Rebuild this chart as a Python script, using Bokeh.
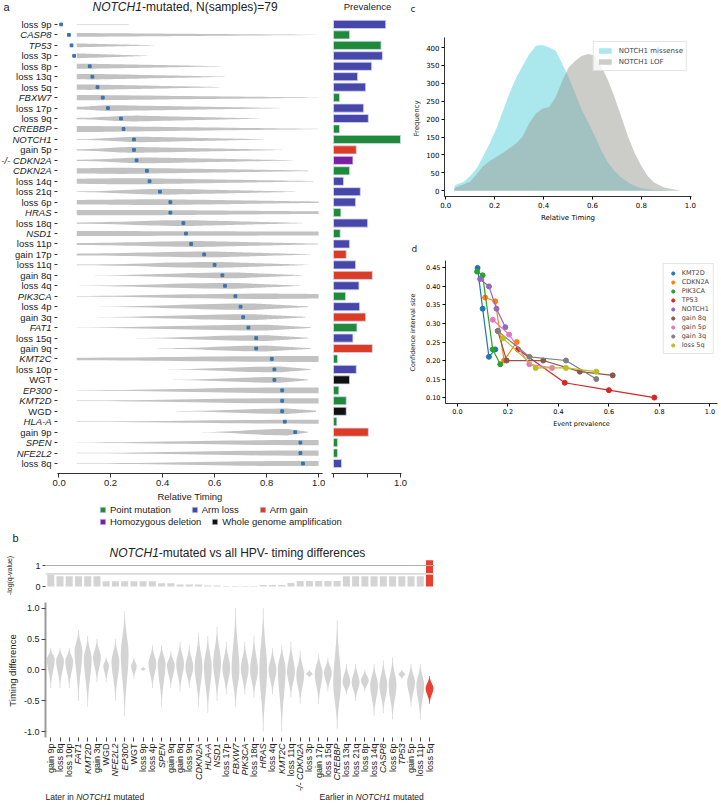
import numpy as np
from bokeh.plotting import figure
from bokeh.models import (Range1d, FixedTicker, Label, ColumnDataSource,
                          Legend, LegendItem, Span, PrintfTickFormatter)
from bokeh.layouts import column, row
from bokeh.embed import file_html
from bokeh.resources import INLINE
from bokeh.core.properties import value

# ---------------- panel a data ----------------
a_events = ["loss 9p", "CASP8", "TP53", "loss 3p", "loss 8p", "loss 13q", "loss 5q", "FBXW7",
            "loss 17p", "loss 9q", "CREBBP", "NOTCH1", "gain 5p", "-/- CDKN2A", "CDKN2A",
            "loss 14q", "loss 21q", "loss 6p", "HRAS", "loss 18q", "NSD1", "loss 11p",
            "gain 17p", "loss 11q", "gain 8q", "loss 4q", "PIK3CA", "loss 4p", "gain 3q",
            "FAT1", "loss 15q", "gain 9q", "KMT2C", "loss 10p", "WGT", "EP300", "KMT2D",
            "WGD", "HLA-A", "gain 9p", "SPEN", "NFE2L2", "loss 8q"]
a_median = [0.01, 0.04, 0.05, 0.06, 0.12, 0.13, 0.15, 0.17, 0.19, 0.24, 0.25, 0.29, 0.29,
            0.30, 0.34, 0.35, 0.39, 0.43, 0.43, 0.48, 0.49, 0.51, 0.56, 0.60, 0.63, 0.64,
            0.68, 0.70, 0.71, 0.73, 0.76, 0.76, 0.82, 0.83, 0.83, 0.86, 0.86, 0.86, 0.87,
            0.91, 0.93, 0.93, 0.94]
a_prevalence = [0.78, 0.24, 0.71, 0.73, 0.57, 0.36, 0.48, 0.09, 0.45, 0.52, 0.09, 1.00, 0.34,
                0.29, 0.24, 0.15, 0.40, 0.33, 0.11, 0.51, 0.10, 0.24, 0.19, 0.33, 0.58, 0.38,
                0.18, 0.39, 0.48, 0.35, 0.29, 0.58, 0.06, 0.34, 0.24, 0.08, 0.19, 0.19, 0.05,
                0.52, 0.06, 0.06, 0.12]
# violin outline of each row: start, mode, end (timing) and relative half-widths
a_v_start = [0.07, 0.07, 0.07, 0.07, 0.07, 0.07, 0.07, 0.07, 0.07, 0.07, 0.07, 0.07, 0.07,
             0.07, 0.07, 0.07, 0.07, 0.07, 0.07, 0.07, 0.07, 0.07, 0.07, 0.07, 0.14, 0.08,
             0.07, 0.16, 0.15, 0.07, 0.30, 0.38, 0.07, 0.42, 0.44, 0.07, 0.07, 0.45, 0.07,
             0.55, 0.07, 0.07, 0.07]
a_v_mode = [0.07, 0.07, 0.07, 0.07, 0.10, 0.15, 0.12, 0.10, 0.20, 0.30, 0.15, 0.33, 0.30,
            0.35, 0.25, 0.30, 0.42, 0.40, 0.30, 0.50, 0.50, 0.55, 0.60, 0.62, 0.68, 0.68,
            0.80, 0.75, 0.75, 0.80, 0.80, 0.80, 0.90, 0.85, 0.85, 0.92, 0.90, 0.88, 0.95,
            0.88, 0.95, 0.95, 0.95]
a_v_end = [0.27, 0.99, 0.37, 0.34, 0.62, 0.64, 0.62, 1.00, 0.85, 0.77, 1.00, 0.79, 0.86,
           0.90, 0.96, 0.98, 0.91, 1.00, 1.00, 0.94, 1.00, 1.00, 0.97, 0.96, 0.94, 0.93,
           1.00, 0.96, 0.95, 0.97, 0.96, 0.97, 1.00, 0.97, 0.96, 1.00, 1.00, 0.99, 1.00,
           0.96, 1.00, 1.00, 1.00]
a_w_start = [0.05, 0.30, 0.30, 0.38, 0.38, 0.40, 0.40, 0.42, 0.20, 0.10, 0.45, 0.05, 0.10,
             0.10, 0.40, 0.40, 0.05, 0.35, 0.42, 0.10, 0.40, 0.15, 0.15, 0.05, 0.02, 0.02,
             0.05, 0.02, 0.02, 0.02, 0.02, 0.02, 0.20, 0.02, 0.02, 0.03, 0.03, 0.02, 0.03,
             0.02, 0.03, 0.03, 0.03]
a_w_mode = [0.05, 0.30, 0.30, 0.38, 0.40, 0.42, 0.42, 0.42, 0.45, 0.45, 0.45, 0.42, 0.45,
            0.45, 0.48, 0.48, 0.45, 0.45, 0.42, 0.45, 0.35, 0.45, 0.45, 0.45, 0.45, 0.45,
            0.42, 0.50, 0.45, 0.45, 0.45, 0.45, 0.45, 0.45, 0.45, 0.45, 0.40, 0.42, 0.30,
            0.50, 0.40, 0.40, 0.40]
a_w_end = [0.03, 0.02, 0.02, 0.02, 0.02, 0.02, 0.02, 0.02, 0.02, 0.02, 0.02, 0.02, 0.02,
           0.02, 0.05, 0.03, 0.02, 0.10, 0.20, 0.02, 0.30, 0.05, 0.02, 0.02, 0.02, 0.02,
           0.35, 0.05, 0.05, 0.05, 0.05, 0.05, 0.45, 0.05, 0.05, 0.45, 0.40, 0.10, 0.30,
           0.05, 0.40, 0.40, 0.40]

legend_labels = ["Point mutation", "Arm loss", "Arm gain", "Homozygous deletion",
                 "Whole genome amplification"]
legend_colors = ["#1f8a3a", "#4646ab", "#dc3b26", "#7a1fa3", "#111111"]

# ---------------- panel b data ----------------
b_events = ["gain 9p", "loss 8q", "loss 10p", "FAT1", "KMT2D", "gain 3q", "WGD", "NFE2L2",
            "EP300", "WGT", "loss 9p", "loss 4p", "SPEN", "gain 9q", "gain 8q", "loss 9q",
            "CDKN2A", "HLA-A", "NSD1", "loss 17p", "FBXW7", "PIK3CA", "loss 18q", "HRAS",
            "loss 4q", "KMT2C", "loss 11q", "-/- CDKN2A", "loss 3p", "gain 17p", "loss 15q",
            "CREBBP", "loss 13q", "loss 21q", "loss 8p", "loss 14q", "CASP8", "loss 6p",
            "TP53", "gain 5p", "loss 11p", "loss 5q"]
b_neglogq = [0.57, 0.49, 0.49, 0.49, 0.49, 0.49, 0.25, 0.25, 0.25, 0.25, 0.25, 0.25, 0.16,
             0.16, 0.10, 0.10, 0.10, 0.05, 0.05, 0.02, 0.02, 0.02, 0.02, 0.07, 0.07, 0.07,
             0.17, 0.26, 0.26, 0.26, 0.26, 0.26, 0.49, 0.49, 0.49, 0.49, 0.49, 0.49, 0.49,
             0.49, 0.49, 1.25]
b_significant = [False] * 41 + [True]
b_peak = [0.17, 0.15, 0.14, 0.30, 0.18, 0.20, 0.07, 0.13, 0.25, 0.06, 0.01, 0.10, 0.10, 0.07,
          0.10, 0.05, 0.05, 0.05, 0.10, 0.03, 0.00, 0.02, 0.00, 0.00, 0.00, 0.02, -0.03,
          -0.08, -0.07, -0.05, -0.05, -0.20, -0.20, -0.20, -0.17, -0.25, -0.25, -0.25, -0.07,
          -0.20, -0.25, -0.30]
b_high = [0.35, 0.35, 0.35, 0.65, 0.55, 0.50, 0.20, 0.50, 0.95, 0.20, 0.05, 0.40, 0.40, 0.30,
          0.45, 0.40, 0.60, 0.55, 0.70, 0.45, 1.00, 0.45, 0.55, 1.00, 0.35, 0.40, 0.45, 0.30,
          0.00, 0.25, 0.20, 0.80, 0.10, 0.10, 0.00, 0.10, 0.15, 0.20, 0.00, 0.10, 0.10, -0.10]
b_low = [-0.30, -0.30, -0.30, -0.50, -0.60, -0.20, -0.20, -0.50, -0.75, -0.15, -0.02, -0.30,
         -0.60, -0.30, -0.35, -0.30, -0.60, -0.70, -0.50, -0.40, -0.60, -0.40, -0.45, -1.00,
         -0.40, -1.00, -0.45, -0.55, -0.12, -0.55, -0.35, -0.95, -0.40, -0.50, -0.35, -0.75,
         -0.70, -0.80, -0.15, -0.60, -0.80, -0.55]
b_width = [0.42, 0.42, 0.42, 0.42, 0.42, 0.42, 0.30, 0.42, 0.42, 0.30, 0.25, 0.42, 0.42, 0.42,
           0.42, 0.42, 0.42, 0.42, 0.42, 0.42, 0.42, 0.42, 0.42, 0.42, 0.42, 0.42, 0.42, 0.42,
           0.35, 0.42, 0.42, 0.42, 0.42, 0.42, 0.42, 0.42, 0.42, 0.42, 0.35, 0.42, 0.42, 0.42]
b_q_lines = [1.0, 0.6]

# ---------------- panel c data ----------------
c_missense_x = [0.035, 0.04, 0.074, 0.10, 0.128, 0.154, 0.18, 0.208, 0.235, 0.26, 0.289, 0.315,
                0.342, 0.369, 0.396, 0.423, 0.45, 0.477, 0.503, 0.53, 0.557, 0.584, 0.61,
                0.638, 0.664, 0.69, 0.718, 0.758, 0.80, 0.85, 0.906]
c_missense_y = [12, 16, 25, 41, 64, 97, 133, 175, 225, 271, 317, 349, 382, 405, 407, 400, 391,
                354, 317, 271, 225, 189, 152, 110, 78, 55, 37, 18, 7, 3, 1]
c_lof_x = [0.035, 0.04, 0.10, 0.154, 0.18, 0.235, 0.289, 0.315, 0.342, 0.369, 0.396, 0.423,
           0.45, 0.477, 0.503, 0.53, 0.557, 0.584, 0.61, 0.638, 0.664, 0.69, 0.718, 0.745,
           0.772, 0.80, 0.826, 0.852, 0.893, 0.946, 0.96]
c_lof_y = [6, 9, 25, 69, 83, 106, 133, 152, 189, 216, 230, 234, 262, 308, 345, 363, 377, 382,
           377, 345, 308, 262, 207, 152, 106, 69, 41, 23, 9, 2, 0]

# ---------------- panel d data ----------------
d_names = ["KMT2D", "CDKN2A", "PIK3CA", "TP53", "NOTCH1", "gain 8q", "gain 5p", "gain 3q",
           "loss 5q"]
d_colors = ["#1f77b4", "#ff7f0e", "#2ca02c", "#d62728", "#9467bd", "#8c564b", "#e377c2",
            "#7f7f7f", "#bcbd22"]
d_prevalence = [[0.08, 0.10, 0.125, 0.15], [0.11, 0.15, 0.185, 0.235],
                [0.078, 0.10, 0.14, 0.17], [0.24, 0.425, 0.60, 0.78],
                [0.09, 0.125, 0.155, 0.19], [0.16, 0.195, 0.34, 0.485, 0.615],
                [0.14, 0.205, 0.285, 0.375], [0.16, 0.285, 0.43, 0.55],
                [0.18, 0.31, 0.43, 0.55]]
d_ci_size = [[0.45, 0.34, 0.21, 0.23], [0.37, 0.36, 0.20, 0.25], [0.44, 0.43, 0.23, 0.19],
             [0.23, 0.14, 0.12, 0.10], [0.42, 0.40, 0.34, 0.29],
             [0.28, 0.20, 0.20, 0.17, 0.16], [0.31, 0.27, 0.19, 0.18],
             [0.28, 0.21, 0.20, 0.15], [0.26, 0.18, 0.18, 0.17]]

# ---------------- helpers ----------------
FA = "Liberation Sans"
FC = "DejaVu Sans"
TXT = "#222222"
A_W_SCALE = 0.62
FMT1 = PrintfTickFormatter(format="%.1f")


def base_fig(w, h, xr, yr, ml, mr, mt, mb, **kw):
    p = figure(width=w, height=h, x_range=xr, y_range=yr, output_backend="svg",
               toolbar_location=None, min_border_left=ml, min_border_right=mr,
               min_border_top=mt, min_border_bottom=mb, **kw)
    p.outline_line_color = None
    p.xgrid.visible = False
    p.ygrid.visible = False
    p.background_fill_color = "white"
    p.border_fill_color = "white"
    return p


def style_axis(ax, font, size, color=TXT, line_color=TXT, tick_out=4):
    ax.major_label_text_font = font
    ax.major_label_text_font_size = size
    ax.major_label_text_color = color
    ax.axis_label_text_font = font
    ax.axis_label_text_font_size = size
    ax.axis_label_text_font_style = "normal"
    ax.axis_label_text_color = color
    ax.minor_tick_line_color = None
    ax.major_tick_in = 0
    ax.major_tick_out = tick_out
    ax.major_tick_line_color = line_color
    ax.axis_line_color = line_color


def add_text(p, frame_left, frame_bottom, px, py, text, size, font, style="normal",
             align="left", angle=0.0, color=TXT):
    p.add_layout(Label(x=px - frame_left, y=frame_bottom - py, x_units="screen",
                       y_units="screen", text=text, text_font=font, text_font_size=size,
                       text_font_style=style, text_align=align, text_baseline="middle",
                       angle=angle, text_color=color))


def event_kind(name):
    if name.startswith("loss"):
        return "loss"
    if name.startswith("gain"):
        return "gain"
    if name.startswith("-/-"):
        return "homdel"
    if name in ("WGD", "WGT"):
        return "wgd"
    return "point"


kind_color = {"point": legend_colors[0], "loss": legend_colors[1], "gain": legend_colors[2],
              "homdel": legend_colors[3], "wgd": legend_colors[4]}

n_a = len(a_events)
a_rows = [-i for i in range(n_a)]
a_kinds = [event_kind(e) for e in a_events]
a_styles = ["italic" if k in ("point", "homdel") else "normal" for k in a_kinds]

# row geometry of panel a (page pixels)
ROW0_Y, ROW_PITCH = 24.0, 10.476
A_FB = 474
a_yr = Range1d(-(A_FB - ROW0_Y) / ROW_PITCH, ROW0_Y / ROW_PITCH)

# ---------------- A0: row labels ----------------
a0 = base_fig(52, 504, Range1d(0, 52), a_yr, 0, 0, 0, 30,
              x_axis_location=None, y_axis_location=None)
a0.text(x="x", y="y", text="t", source=ColumnDataSource(dict(
    x=[51] * n_a, y=a_rows, t=a_events, s=a_styles)),
    text_font_style="s", text_font=value(FA), text_font_size=value("9.5px"),
    text_align="right", text_baseline="middle", text_color=TXT)
add_text(a0, 0, A_FB, 3, 7, "a", "11px", FA)

# ---------------- A1: violins ----------------
A1_L = 57
a1 = base_fig(273, 504, Range1d(-0.004, 1.015), a_yr, 5, 3, 0, 30)
vx, vy = [], []
for i in range(n_a):
    s, m, e = a_v_start[i], a_v_mode[i], a_v_end[i]
    ws, wm, we = (A_W_SCALE * a_w_start[i], A_W_SCALE * a_w_mode[i], A_W_SCALE * a_w_end[i])
    if m > s:
        t1 = np.linspace(s, m, 16)
        u1 = (t1 - s) / (m - s)
        w1 = ws + (wm - ws) * (0.5 - 0.5 * np.cos(np.pi * u1))
    else:
        t1 = np.array([s])
        w1 = np.array([ws])
    t2 = np.linspace(m, e, 30)
    u2 = (t2 - m) / max(e - m, 1e-6)
    w2 = wm + (we - wm) * u2
    t = np.concatenate([t1, t2[1:]])
    w = np.concatenate([w1, w2[1:]])
    y0 = a_rows[i]
    vx.append(list(np.concatenate([t, t[::-1]])))
    vy.append(list(np.concatenate([y0 + w, (y0 - w)[::-1]])))
a1.patches(xs="xs", ys="ys", source=ColumnDataSource(dict(xs=vx, ys=vy)),
           fill_color="#c2c2c2", line_color=None)
a1.scatter(a_median, a_rows, size=2.8, marker="square", color="#3a73aa")

style_axis(a1.xaxis[0], FA, "9.5px", line_color="#333333")
a1.xaxis.ticker = FixedTicker(ticks=[0, 0.2, 0.4, 0.6, 0.8, 1.0])
a1.xaxis.formatter = FMT1
a1.xaxis.axis_label = "Relative Timing"
a1.xaxis.major_label_standoff = 2
a1.xaxis.axis_label_standoff = 2
a1.xaxis.axis_line_width = 1.2
style_axis(a1.yaxis[0], FA, "9px", line_color="#333333", tick_out=3)
a1.yaxis.ticker = FixedTicker(ticks=a_rows)
a1.yaxis.axis_line_color = None
a1.yaxis.major_label_text_color = None
a1.yaxis.major_label_standoff = 0

add_text(a1, A1_L, A_FB, 92, 7, "NOTCH1", "12px", FA, style="italic")
add_text(a1, A1_L, A_FB, 141.5, 7, "-mutated, N(samples)=79", "12px", FA)

# ---------------- A2: prevalence ----------------
A2_L = 331
a2 = base_fig(82, 504, Range1d(-0.03, 1.015), a_yr, 6, 6, 0, 30, y_axis_location=None)
a2.hbar(y=a_rows, left=0, right=a_prevalence, height=0.78,
        fill_color=[kind_color[k] for k in a_kinds], line_color="#d3d8ee", line_width=0.8)
style_axis(a2.xaxis[0], FA, "9.5px", line_color="#333333")
a2.xaxis.ticker = FixedTicker(ticks=[1.0], minor_ticks=[0.0, 0.5])
a2.xaxis.formatter = PrintfTickFormatter(format="%.1f")
a2.xaxis.minor_tick_line_color = "#333333"
a2.xaxis.minor_tick_out = 4
a2.xaxis.minor_tick_in = 0
a2.xaxis.major_label_standoff = 2
a2.xaxis.axis_line_width = 1.2
add_text(a2, A2_L, A_FB, 367, 7, "Prevalence", "9.5px", FA, align="center")

# ---------------- CD0: side texts of panels c and d ----------------
CD_H = 430
cd0 = base_fig(16, CD_H, Range1d(0, 16), Range1d(0, CD_H), 0, 0, 0, 0,
               x_axis_location=None, y_axis_location=None)
CD_L = 407
add_text(cd0, CD_L, CD_H, 410, 8, "c", "9px", FC)
add_text(cd0, CD_L, CD_H, 416, 118, "Frequency", "7px", FC, align="center", angle=np.pi / 2)
add_text(cd0, CD_L, CD_H, 411, 248, "d", "9px", FC)
add_text(cd0, CD_L, CD_H, 412, 332, "Confidence interval size", "6.5px", FC,
         align="center", angle=np.pi / 2)

# ---------------- C: timing histogram ----------------
pc = base_fig(298, 224, Range1d(-0.005, 1.005), Range1d(-16, 428), 18, 30, 37, 26)
r_mis = pc.varea(x=c_missense_x, y1=0, y2=c_missense_y, fill_color="#17becf", fill_alpha=0.36)
r_lof = pc.varea(x=c_lof_x, y1=0, y2=c_lof_y, fill_color="#9a9a94", fill_alpha=0.5)
for ax in (pc.xaxis[0], pc.yaxis[0]):
    style_axis(ax, FC, "7px", color="#000000", line_color="#000000", tick_out=3)
    ax.major_label_standoff = 2
    ax.axis_line_width = 0.8
pc.xaxis.ticker = FixedTicker(ticks=[0, 0.2, 0.4, 0.6, 0.8, 1.0])
pc.xaxis.formatter = PrintfTickFormatter(format="%.1f")
pc.yaxis.ticker = FixedTicker(ticks=list(range(0, 401, 50)))
pc.xaxis.axis_label = "Relative Timing"
pc.xaxis.axis_label_standoff = 3
leg_c = Legend(items=[LegendItem(label="NOTCH1 missense", renderers=[r_mis]),
                      LegendItem(label="NOTCH1 LOF", renderers=[r_lof])],
               location="top_right", margin=4, label_text_font=FC,
               label_text_font_size="7px", glyph_width=16, glyph_height=7,
               label_standoff=6, label_height=11, padding=3, spacing=0,
               border_line_color="#cccccc", background_fill_alpha=0.8)
pc.add_layout(leg_c)

# ---------------- D: CI size vs prevalence ----------------
pd_ = base_fig(298, 206, Range1d(-0.047, 1.03), Range1d(0.084, 0.47), 18, 4, 36, 27)
d_items = []
for name, col, xs, ys in zip(d_names, d_colors, d_prevalence, d_ci_size):
    pd_.line(xs, ys, line_color=col, line_width=1.2)
    r = pd_.scatter(xs, ys, size=5, color=col)
    d_items.append(LegendItem(label=name, renderers=[r]))
for ax in (pd_.xaxis[0], pd_.yaxis[0]):
    style_axis(ax, FC, "6.5px", color="#000000", line_color="#000000", tick_out=3)
    ax.major_label_standoff = 2
    ax.axis_line_width = 0.8
pd_.xaxis.ticker = FixedTicker(ticks=[0, 0.2, 0.4, 0.6, 0.8, 1.0])
pd_.xaxis.formatter = PrintfTickFormatter(format="%.1f")
pd_.yaxis.ticker = FixedTicker(ticks=[0.10, 0.15, 0.20, 0.25, 0.30, 0.35, 0.40, 0.45])
pd_.yaxis.formatter = PrintfTickFormatter(format="%.2f")
pd_.xaxis.axis_label = "Event prevalence"
pd_.xaxis.axis_label_standoff = 3
leg_d = Legend(items=d_items, location="top_right", margin=3, label_text_font=FC,
               label_text_font_size="6.5px", glyph_width=10, glyph_height=8,
               label_standoff=4, label_height=9, padding=4, spacing=0,
               border_line_color="#cccccc", background_fill_alpha=0.8)
pd_.add_layout(leg_d)

# ---------------- B0: side texts of panel b ----------------
B0_H = 300
b0 = base_fig(20, B0_H, Range1d(0, 20), Range1d(0, B0_H), 0, 0, 0, 0,
              x_axis_location=None, y_axis_location=None)
B0_B = 504 + B0_H
add_text(b0, 0, B0_B, 12, 537, "b", "11px", FA)
add_text(b0, 0, B0_B, 9, 575, "-log(q-value)", "7px", FA, align="center", angle=np.pi / 2)
add_text(b0, 0, B0_B, 12, 670, "Timing difference", "9.5px", FA, align="center",
         angle=np.pi / 2)

# ---------------- B top: q-values ----------------
n_b = len(b_events)
b_idx = list(range(n_b))
B_L = 43
BT_B = 590
b_xr = Range1d(-0.57, 41.54)
bt = base_fig(420, 86, b_xr, Range1d(-(590 - 586) / 21, (586 - 504) / 21), 23, 6, 0, 0,
              x_axis_location=None)
bt.vbar(x=b_idx, top=b_neglogq, width=0.76,
        fill_color=["#e8402f" if s else "#d4d4d4" for s in b_significant], line_color=None)
for lev, colr, lw in zip(b_q_lines, ["#b0b0b0", "#d9d9d9"], [1, 1.6]):
    bt.add_layout(Span(location=lev, dimension="width", line_color=colr, line_width=lw))
style_axis(bt.yaxis[0], FA, "9px", line_color="#444444", tick_out=3)
bt.yaxis.axis_line_color = None
bt.yaxis.ticker = FixedTicker(ticks=[0, 1])
bt.yaxis.major_label_standoff = 2
add_text(bt, B_L, BT_B, 107, 552, "NOTCH1", "12px", FA, style="italic")
add_text(bt, B_L, BT_B, 156.3, 552, "-mutated vs all HPV- timing differences", "12px", FA)

# legend for panel a (drawn in the space above panel b)
proxy = bt.hbar(y=[np.nan] * 5, left=0, right=1, height=0.5, fill_color=legend_colors,
                line_color="#d3d8ee", line_width=0.8)
leg_rows = [([0, 1, 2], 75, 20), ([3, 4], 63, 10)]
for idxs, vy_, sp in leg_rows:
    lg = Legend(items=[LegendItem(label=legend_labels[k], renderers=[proxy], index=k)
                       for k in idxs],
                location=(54, vy_), orientation="horizontal", label_text_font=FA,
                label_text_font_size="9.5px", label_text_color=TXT, glyph_width=7,
                glyph_height=7, label_standoff=4, label_height=11, padding=0, margin=0,
                spacing=sp, border_line_color=None, background_fill_alpha=0)
    bt.add_layout(lg)

# ---------------- B bottom: timing difference violins ----------------
bb = base_fig(420, 152, b_xr, Range1d(-1.097, 1.092), 23, 6, 12, 5)
bxs, bys, bcol = [], [], []
for i in range(n_b):
    pk, hi, lo, bw = b_peak[i], b_high[i], b_low[i], b_width[i]
    yy = np.linspace(lo, hi, 60)
    s_up = max(hi - pk, 0.01) / 2.5
    s_dn = max(pk - lo, 0.01) / 2.5
    sig = np.where(yy >= pk, s_up, s_dn)
    ww = bw * np.exp(-0.5 * ((yy - pk) / sig) ** 2)
    ww = np.maximum(ww, 0.04)
    bxs.append(list(np.concatenate([i + ww, (i - ww)[::-1]])))
    bys.append(list(np.concatenate([yy, yy[::-1]])))
    bcol.append("#e8402f" if b_significant[i] else "#d4d4d4")
bb.patches(xs="xs", ys="ys", source=ColumnDataSource(dict(xs=bxs, ys=bys, c=bcol)),
           fill_color="c", line_color=None)
style_axis(bb.yaxis[0], FA, "9px", line_color="#444444", tick_out=4)
bb.yaxis.axis_line_color = "#9a9a9a"
bb.yaxis.axis_line_width = 2
bb.yaxis.ticker = FixedTicker(ticks=[-1.0, -0.5, 0.0, 0.5, 1.0])
bb.yaxis.formatter = PrintfTickFormatter(format="%.1f")
bb.yaxis.major_label_standoff = 2
style_axis(bb.xaxis[0], FA, "9px", line_color="#444444", tick_out=4)
bb.xaxis.axis_line_color = None
bb.xaxis.ticker = FixedTicker(ticks=b_idx)
bb.xaxis.major_label_text_color = None
bb.xaxis.major_label_standoff = 0

# ---------------- B labels: event names and direction notes ----------------
BL_H = 62
bl = base_fig(420, BL_H, b_xr, Range1d(0, BL_H), 23, 6, 0, 0,
              x_axis_location=None, y_axis_location=None)
b_styles = ["italic" if event_kind(e) in ("point", "homdel") else "normal" for e in b_events]
bl.text(x="x", y="y", text="t", source=ColumnDataSource(dict(
    x=b_idx, y=[BL_H - 1] * n_b, t=b_events, s=b_styles)),
    angle=np.pi / 2, text_font_style="s", text_font=value(FA), text_font_size=value("9px"),
    text_align="right", text_baseline="middle", text_color=TXT)
BL_B = 742 + BL_H
add_text(bl, B_L, BL_B, 43, 796, "Later in", "8.5px", FA)
add_text(bl, B_L, BL_B, 73.7, 796, "NOTCH1", "8.5px", FA, style="italic")
add_text(bl, B_L, BL_B, 111, 796, "mutated", "8.5px", FA)
add_text(bl, B_L, BL_B, 317, 796, "Earlier in", "8.5px", FA)
add_text(bl, B_L, BL_B, 353, 796, "NOTCH1", "8.5px", FA, style="italic")
add_text(bl, B_L, BL_B, 390.5, 796, "mutated", "8.5px", FA)

top = row(row(a0, a1, a2), row(cd0, column(pc, row(pd_))))
bottom = row(b0, column(bt, bb, bl))
layout = column(top, bottom)
open("out.html", "w").write(file_html(layout, INLINE))
